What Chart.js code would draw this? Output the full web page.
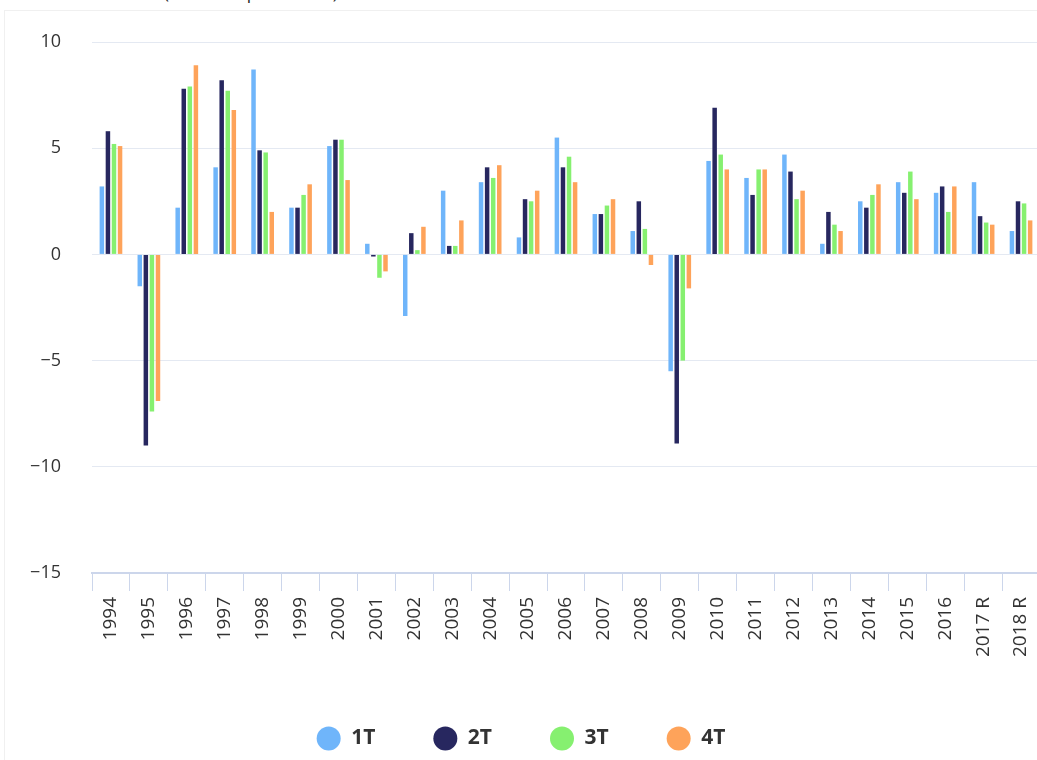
<!DOCTYPE html>
<html>
<head>
<meta charset="utf-8">
<script src="https://cdn.jsdelivr.net/npm/chart.js@4/dist/chart.umd.min.js"></script>
<style>
  html, body { margin: 0; padding: 0; background: #fff; overflow: hidden; }
  body { width: 1037px; height: 760px; position: relative; }
  #frame { position: absolute; left: 4px; top: 10px; width: 1100px; height: 800px;
           border: 1px solid #f0f0f0; background: #fff; }
  #title { position: absolute; left: 164px; top: -16px; font: 17px "Open Sans", sans-serif;
           line-height: 17px; color: #222; white-space: nowrap; }
  #wrap { position: absolute; left: 0; top: 0; width: 1050px; height: 760px; }
</style>
</head>
<body>
<div id="frame"></div>
<div id="title">(Variación porcentual)</div>
<div id="wrap"><canvas id="chart"></canvas></div>
<script>
// categorias y series (variacion % por trimestre)
const years = ['1994', '1995', '1996', '1997', '1998', '1999', '2000', '2001', '2002', '2003',
  '2004', '2005', '2006', '2007', '2008', '2009', '2010', '2011', '2012', '2013',
  '2014', '2015', '2016', '2017 R', '2018 R'];
const t1 = [3.2, -1.5, 2.2, 4.1, 8.7, 2.2, 5.1, 0.5, -2.9, 3.0,
  3.4, 0.8, 5.5, 1.9, 1.1, -5.5, 4.4, 3.6, 4.7, 0.5,
  2.5, 3.4, 2.9, 3.4, 1.1];
const t2 = [5.8, -9.0, 7.8, 8.2, 4.9, 2.2, 5.4, -0.1, 1.0, 0.4,
  4.1, 2.6, 4.1, 1.9, 2.5, -8.9, 6.9, 2.8, 3.9, 2.0,
  2.2, 2.9, 3.2, 1.8, 2.5];
const t3 = [5.2, -7.4, 7.9, 7.7, 4.8, 2.8, 5.4, -1.1, 0.2, 0.4,
  3.6, 2.5, 4.6, 2.3, 1.2, -5.0, 4.7, 4.0, 2.6, 1.4,
  2.8, 3.9, 2.0, 1.5, 2.4];
const t4 = [5.1, -6.9, 8.9, 6.8, 2.0, 3.3, 3.5, -0.8, 1.3, 1.6,
  4.2, 3.0, 3.4, 2.6, -0.5, -1.6, 4.0, 4.0, 3.0, 1.1,
  3.3, 2.6, 3.2, 1.4, 1.6];
const seriesNames = ['1T', '2T', '3T', '4T'];
const seriesColors = ['#6fb5fa', '#27275f', '#86f070', '#fea35a'];

const font = '"Open Sans", "DejaVu Sans", sans-serif';

const ctx = document.getElementById('chart').getContext('2d');
const chart = new Chart(ctx, {
  type: 'bar',
  data: {
    labels: years,
    datasets: [t1, t2, t3, t4].map((d, i) => ({
      label: seriesNames[i],
      data: d,
      backgroundColor: seriesColors[i],
      borderWidth: 0,
      categoryPercentage: 0.64,
      barPercentage: 0.74
    }))
  },
  options: {
    responsive: true,
    maintainAspectRatio: false,
    animation: false,
    layout: { padding: { top: 42, left: 0, right: 8, bottom: 1 } },
    plugins: {
      tooltip: { enabled: false },
      legend: {
        position: 'bottom',
        labels: {
          usePointStyle: true,
          pointStyle: 'circle',
          pointStyleWidth: 24,
          boxHeight: 17,
          padding: 58,
          color: '#333',
          font: { family: font, size: 21, weight: 'bold' }
        }
      }
    },
    scales: {
      x: {
        grid: {
          offset: true,
          drawOnChartArea: false,
          drawTicks: true,
          tickLength: 18,
          tickColor: '#ccd6eb',
          lineWidth: 1
        },
        border: { color: '#ccd6eb', width: 2 },
        ticks: {
          minRotation: 90,
          maxRotation: 90,
          autoSkip: false,
          padding: 6,
          color: '#333',
          font: { family: font, size: 19 }
        },
        afterFit: (scale) => { scale.height = 97; }
      },
      y: {
        min: -15,
        max: 10,
        grid: { color: '#e4e9f2', lineWidth: 1, drawTicks: false },
        border: { display: false },
        ticks: {
          stepSize: 5,
          padding: 31,
          color: '#333',
          font: { family: font, size: 18 },
          callback: (v) => String(v).replace('-', '\u2212')
        },
        afterFit: (scale) => { scale.width = 92; }
      }
    }
  }
});
</script>
</body>
</html>
